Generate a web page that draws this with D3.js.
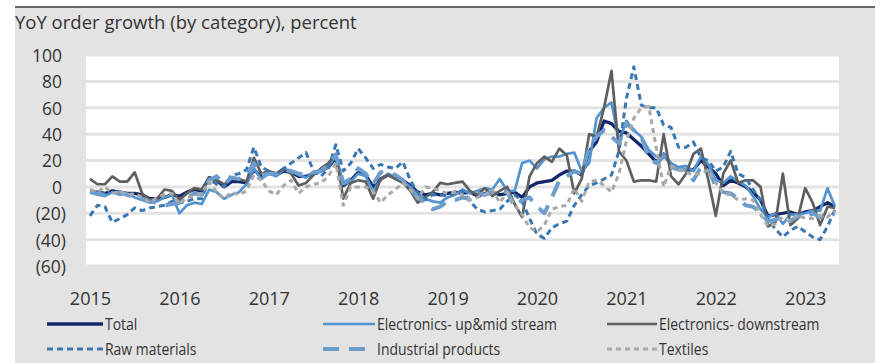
<!DOCTYPE html>
<html><head><meta charset="utf-8">
<script src="https://cdn.jsdelivr.net/npm/d3@7"></script>
<style>
body{margin:0;background:#fff}
svg{display:block}
text{font-family:"Open Sans","Noto Sans",sans-serif;fill:#333}
</style>
</head><body>
<svg id="c" width="882" height="363"></svg>
<script>
// ---------- data (monthly, Jan 2015 - May 2023) ----------
const yearLabels = ["2015","2016","2017","2018","2019","2020","2021","2022","2023"];
const yTickValues = [100,80,60,40,20,0,-20,-40,-60];
const seriesNames = ["Total","Electronics- up&mid stream","Electronics- downstream","Raw materials","Industrial products","Textiles"];

const total = [
-4,-4,-5,-3,-4,-5,-5,-6,-9,-9,-8,-6,
-7,-4,-2,-3,7,5,0,4,4,3,13,8,
11,9,12,11,8,8,10,12,15,22,1,5,
11,9,0,6,9,8,5,1,-4,-6,-5,-6,
-5,-4,-5,-4,-7,-5,-4,-6,-5,-4,-8,0,
3,4,5,9,12,12,9,27,34,50,48,42,
41,36,31,25,19,25,17,14,13,13,20,15,
10,1,5,3,0,-4,-10,-22,-21,-20,-19,-21,
-19,-18,-15,-12,-15];

const upmid = [
-4,-6,-7,-4,-6,-5,-8,-10,-12,-11,-8,-6,
-20,-14,-12,-13,-2,-4,-9,-6,-4,2,14,6,
10,8,13,12,9,7,11,12,15,24,2,4,
10,8,-3,5,10,7,4,0,-6,-9,-11,-12,
-8,-6,-2,-5,-3,-1,-2,6,-3,-3,18,20,
14,21,23,23,25,26,12,18,52,60,64,35,
50,43,38,28,23,25,18,15,16,12,23,17,
5,3,8,4,1,-7,-17,-23,-20,-28,-21,-21,
-20,-18,-18,-1,-15];

const downstream = [
6,2,2,8,4,4,11,-5,-10,-9,-2,-3,
-10,-5,-1,-2,7,5,2,6,6,4,22,10,
12,10,14,10,1,3,9,14,18,25,-9,3,
5,4,-9,6,9,6,3,-3,-12,-8,-4,3,
2,3,4,-3,-6,-1,-7,-3,0,-13,-23,8,
18,23,19,29,24,-5,6,40,38,60,88,27,
20,4,5,5,4,40,8,2,10,25,29,5,
-22,10,20,3,5,5,0,-30,-27,10,-29,-24,
-1,-12,-29,-15,-16];

const rawMaterials = [
-22,-14,-15,-27,-24,-21,-16,-18,-16,-15,-14,-11,
-12,-11,-9,-9,6,2,0,9,10,13,30,15,
12,10,14,18,22,26,12,8,14,32,12,18,
29,22,14,17,15,14,19,5,-5,-10,-6,-6,
-7,-5,-3,-11,-17,-19,-18,-17,-11,-6,-11,-24,
-36,-39,-31,-28,-26,-14,-6,1,3,6,9,27,
67,91,62,60,60,47,45,30,30,34,22,20,
12,15,27,10,7,-2,-10,-24,-32,-38,-33,-30,
-34,-38,-40,-30,-17];

const industrial = [
-4,-5,-6,-5,-4,-6,-8,-9,-11,-12,-14,-13,
-12,-8,-5,-6,5,8,2,7,6,8,18,9,
10,10,13,12,10,9,11,12,17,24,3,6,
14,10,2,11,11,9,5,-2,-8,-12,-17,-15,
-11,-10,-8,-9,-5,-6,-4,-3,-4,-15,-10,-8,
-15,-20,-8,5,8,12,10,30,38,43,38,33,
48,43,38,22,18,23,15,13,13,5,15,14,
0,-4,-5,-9,-14,-15,-20,-26,-25,-23,-26,-22,
-24,-20,-23,-20,-21];

const textiles = [
-2,-4,0,-5,-3,-6,-5,-8,-12,-8,-6,-5,
-13,-8,-7,-5,4,-4,-9,-4,-6,-3,9,5,
-3,-6,1,5,-5,0,2,3,8,18,-14,0,
0,0,-3,-12,-6,-2,3,-2,-9,0,-1,-3,
-5,-4,-6,-10,-8,-6,-2,-12,-4,-14,-21,-31,
-34,-29,-17,-15,-14,-1,-11,4,5,1,-4,10,
35,52,60,61,30,0,16,13,11,9,10,13,
3,-5,-6,-10,-9,-10,-21,-30,-28,-23,-26,-21,
-24,-24,-22,-23,-18];

// ---------- drawing ----------
const svg = d3.select("#c");
const W = 882, H = 363;

svg.append("rect").attr("x",15).attr("y",7).attr("width",860).attr("height",H-7).attr("fill","#e3e3e3");
svg.append("line").attr("x1",15).attr("x2",875).attr("y1",7).attr("y2",7).attr("stroke","#3a3a3a").attr("stroke-width",1.5);

svg.append("text").attr("x",15).attr("y",29).attr("font-size",18.5).text("YoY order growth (by category), percent");

const x = d3.scaleLinear().domain([0,100]).range([90,835]);
const y = d3.scaleLinear().domain([-60,100]).range([266,55]);

// plot area
svg.append("rect").attr("x",86).attr("y",54).attr("width",753).attr("height",213).attr("fill","#fff");
svg.append("g").selectAll("line").data(yTickValues).join("line")
  .attr("x1",86).attr("x2",839).attr("y1",d=>y(d)).attr("y2",d=>y(d))
  .attr("stroke","#e3e3e3").attr("stroke-width",3);

function condense(sel, f){
  sel.each(function(){ const w=this.getComputedTextLength(); d3.select(this).attr("textLength",w*f).attr("lengthAdjust","spacingAndGlyphs"); });
}

// y axis
const fmt = v => v<0 ? "("+(-v)+")" : String(v);
const yAx = svg.append("g").attr("transform","translate(62,0)")
  .call(d3.axisLeft(y).tickValues(yTickValues).tickFormat(fmt).tickSize(0).tickPadding(0));
yAx.select(".domain").remove();
yAx.selectAll("text").attr("font-size",19).attr("fill","#333").style("font-family","'Open Sans'")
  .attr("dx",d=>d<0?4:0).attr("dy","0.34em");
condense(yAx.selectAll("text"),0.92);

// x axis
const xAx = svg.append("g").attr("transform","translate(0,266)")
  .call(d3.axisBottom(x).tickValues(yearLabels.map((d,i)=>i*12)).tickFormat((d,i)=>yearLabels[i]).tickSize(0).tickPadding(0));
xAx.select(".domain").remove();
xAx.selectAll("text").attr("font-size",19).attr("fill","#333").style("font-family","'Open Sans'").attr("dy",0).attr("y",39);
condense(xAx.selectAll("text"),0.95);

// series
const styles = [
  {data:total, color:"#13276b", w:3.3, dash:null},
  {data:upmid, color:"#5393d0", w:2.7, dash:null},
  {data:downstream, color:"#5f5f5f", w:2.7, dash:null},
  {data:rawMaterials, color:"#3b78b3", w:3, dash:"6,4"},
  {data:industrial, color:"#6d9dcd", w:4, dash:"16,10"},
  {data:textiles, color:"#a9a9a9", w:3, dash:"5,4"}
];
const line = d3.line().x((d,i)=>x(i)).y(d=>y(d));
svg.append("g").selectAll("path").data(styles).join("path")
  .attr("d",s=>line(s.data)).attr("fill","none")
  .attr("stroke",s=>s.color).attr("stroke-width",s=>s.w)
  .attr("stroke-dasharray",s=>s.dash).attr("stroke-linejoin","round");

// legend
const legPos = [[47,324,56],[323,324,52],[607,324,50],[47,349,56],[323,349,52],[607,349,50]];
const leg = svg.append("g").selectAll("g").data(styles).join("g")
  .attr("transform",(s,i)=>`translate(${legPos[i][0]},${legPos[i][1]})`);
leg.append("line").attr("x1",0).attr("x2",(s,i)=>legPos[i][2]).attr("y1",0).attr("y2",0)
  .attr("stroke",s=>s.color).attr("stroke-width",s=>s.w).attr("stroke-dasharray",s=>s.dash);
leg.append("text").attr("x",(s,i)=>legPos[i][2]+2).attr("y",0).attr("dy","0.35em")
  .attr("font-size",17).text((s,i)=>seriesNames[i]);
condense(leg.selectAll("text"),0.82);
</script>
</body></html>
